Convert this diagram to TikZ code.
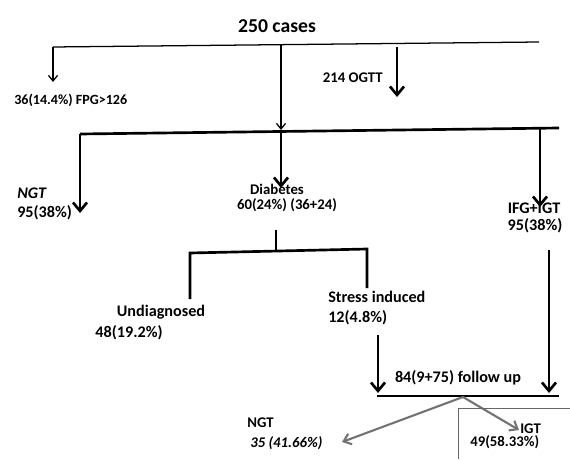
\documentclass[tikz,border=0pt]{standalone}
\usepackage{fontspec}
\setmainfont{Carlito}
\usetikzlibrary{arrows.meta}

\tikzset{
  rotulo/.style={inner sep=0pt, font=\bfseries\fontsize{10.5}{12}\selectfont},
  grande/.style={inner sep=0pt, font=\bfseries\fontsize{11.5}{13}\selectfont},
  titulo/.style={inner sep=0pt, font=\bfseries\fontsize{14}{16}\selectfont},
  fina/.style={line width=0.9pt},
  gruesa/.style={line width=1.9pt},
  flechafina/.style={fina, -{Straight Barb[length=4pt,width=6.5pt]}},
  flechagruesa/.style={gruesa, -{Straight Barb[length=6pt,width=10pt]}},
  flechagris/.style={line width=1.5pt, black!55, -{Straight Barb[length=5pt,width=8pt]}}
}
% horquilla: esquina izq., esquina der., fin izq., fin der.
\newcommand{\horquilla}[4]{%
  \draw[gruesa] (#3) -- (#1) -- (#2) -- (#4);}

\begin{document}
\begin{tikzpicture}[x=0.025cm, y=-0.025cm]
  \useasboundingbox (0,0) rectangle (570,459);

  % primer nivel
  \node[titulo] (casos) at (277,26) {250 cases};
  \coordinate (a1) at (53,47);
  \coordinate (a2) at (539,42);
  \draw[fina] (a1) -- (a2);
  \coordinate (fpgtip) at (53,82);
  \draw[flechafina] (a1) -- (fpgtip);
  \node[rotulo, anchor=west, font=\bfseries\fontsize{10}{12}\selectfont] (fpg) at (14,100) {36(14.4\%) FPG>126};
  \coordinate (m0) at (281,45);
  \coordinate (m1) at (281,130);
  \draw[flechafina] (m0) -- (m1);
  \coordinate (o0) at (397,47);
  \coordinate (o1) at (397,97);
  \draw[flechagruesa] (o0) -- (o1);
  \node[rotulo, anchor=east] (ogtt) at (383,78) {214 OGTT};

  % segundo nivel
  \coordinate (d1) at (80,134);
  \coordinate (d2) at (559,128);
  \draw[gruesa] (d1) -- (d2);
  \coordinate (ngttip) at (80,213);
  \coordinate (dm) at (281,131);
  \coordinate (diabtip) at (281,188);
  \coordinate (dr) at (540,128.3);
  \coordinate (ifgtip) at (540,207);
  \foreach \ini/\fin in {d1/ngttip, dm/diabtip, dr/ifgtip}
    \draw[flechagruesa] (\ini) -- (\fin);
  \node[grande, anchor=west] (ngt) at (17,193) {\textit{NGT}};
  \node[grande, anchor=west] (ngtn) at (17,213) {95(38\%)};
  \node[rotulo] (diab) at (277,189) {Diabetes};
  \node[rotulo] (diabn) at (287,205) {60(24\%) (36+24)};
  \node[grande] (ifg) at (534,208) {IFG+IGT};
  \node[grande] (ifgn) at (535,226) {95(38\%)};

  % diabetes
  \coordinate (s0) at (276,230);
  \coordinate (s1) at (276,251);
  \draw[gruesa] (s0) -- (s1);
  \coordinate (h1) at (190,253);
  \coordinate (h2) at (367,249);
  \coordinate (h3) at (190,299);
  \coordinate (h4) at (367,288);
  \horquilla{h1}{h2}{h3}{h4}
  \node[grande] (undiag) at (161,312) {Undiagnosed};
  \node[grande] (undiagn) at (129,333) {48(19.2\%)};
  \node[grande, anchor=west] (stress) at (328,297) {Stress induced};
  \node[grande, anchor=west] (stressn) at (328,318) {12(4.8\%)};

  % seguimiento
  \coordinate (f0) at (378,335);
  \coordinate (f1) at (378,393);
  \coordinate (g0) at (549,250);
  \coordinate (g1) at (549,393);
  \draw[flechagruesa] (f0) -- (f1);
  \draw[flechagruesa] (g0) -- (g1);
  \node[grande] (follow) at (458,378) {84(9+75) follow up};
  \coordinate (b1) at (377,396);
  \coordinate (b2) at (559,396);
  \draw[gruesa] (b1) -- (b2);
  \coordinate (bm) at (463,397);
  \coordinate (ngt2tip) at (342,442);
  \coordinate (igttip) at (519,430);
  \draw[flechagris] (bm) -- (ngt2tip);
  \draw[flechagris] (bm) -- (igttip);
  \draw[gray!80!black, line width=0.5pt] (458,459) -- (458,408) -- (570,408);
  \node[rotulo, anchor=west] (ngt2) at (247,423) {NGT};
  \node[rotulo, anchor=west] (ngt2n) at (250,443) {\textit{35 (41.66\%)}};
  \node[rotulo, anchor=west] (igt) at (520,429) {IGT};
  \node[rotulo, anchor=west] (igtn) at (470,442) {49(58.33\%)};
\end{tikzpicture}
\end{document}
